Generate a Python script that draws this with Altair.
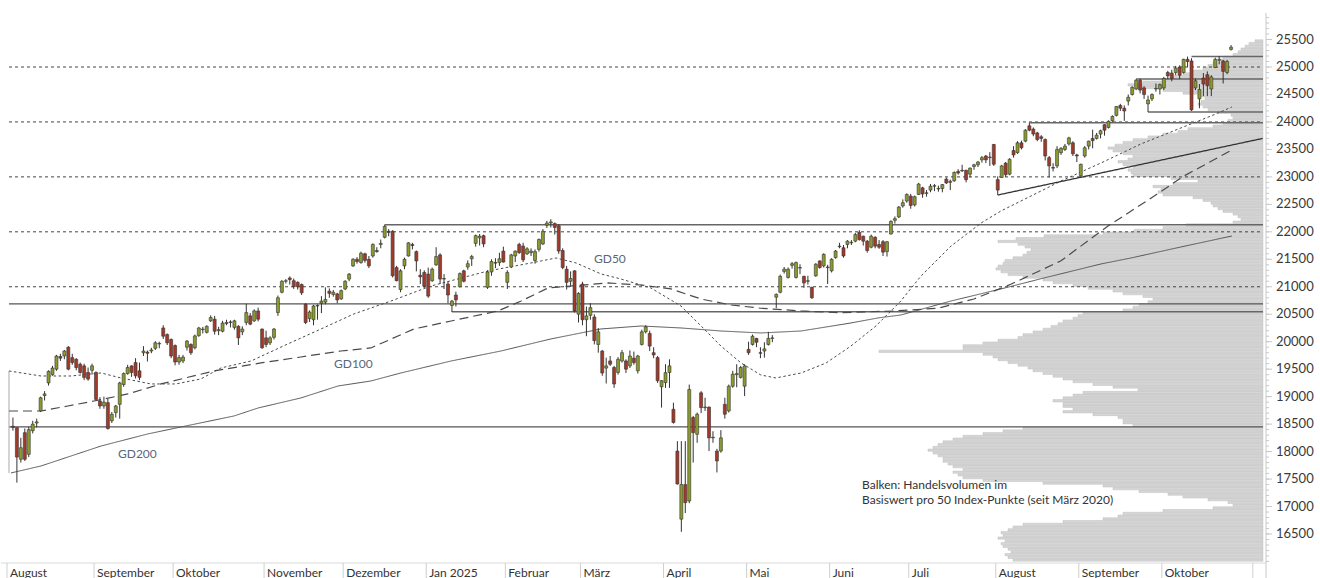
import altair as alt
import pandas as pd

# ---------------- candles: trading-day index 1..309 (2 Aug 2024 .. 24 Oct 2025) ----------------
opens = [
 18460,18435,17860,18345,17950,18380,18520,18740,19020,19250,
 19400,19500,19730,19740,19900,19710,19680,19590,19560,19440,
 19480,19440,18920,18830,18890,18560,18710,18860,19220,19420,
 19560,19620,19470,19800,19810,19830,19880,19960,20250,20130,
 20040,19930,19630,19650,19900,19950,19890,20110,20220,20170,
 20380,20410,20200,20190,20330,20350,20260,20280,20180,20350,
 20470,20380,20560,20230,20070,19980,20080,20530,20900,21100,
 21160,21110,21080,21040,20680,20420,20400,20650,20700,20720,
 20920,20860,20870,20780,20960,21140,21380,21500,21440,21600,
 21500,21560,21660,21770,21900,22010,22010,21350,20950,21380,
 21560,21770,21640,21210,21260,21230,21110,21400,21580,21140,
 21050,20660,20850,21000,21290,21360,21510,21790,21890,21930,
 20990,21270,21440,21440,21650,21080,21360,21560,21770,21740,
 21600,21620,21480,21680,21780,22120,22160,22150,22110,21660,
 21320,21100,21290,20500,21050,20400,20480,20450,19950,19830,
 19520,19650,19530,19440,19650,19650,19560,19700,19470,19950,
 20180,20150,19800,19710,19180,19255,19440,18770,18010,16770,
 17400,17100,18620,18315,19070,18800,18810,18250,18010,18010,
 18860,18740,19190,19400,19350,19190,19860,19950,20060,19800,
 19830,19950,20060,20810,20900,21280,21170,21390,21170,21340,
 21190,21100,20990,21200,21470,21380,21360,21290,21530,21730,
 21710,21770,21800,21830,21990,21920,21830,21720,21900,21770,
 21820,21640,21960,22210,22270,22470,22560,22650,22490,22680,
 22800,22700,22760,22830,22780,22790,22960,22900,22930,23100,
 23120,23120,23050,23190,23220,23310,23380,23350,23590,22950,
 22990,23250,23050,23480,23440,23620,23650,23930,23870,23800,
 23730,23680,23350,23170,23200,23440,23500,23600,23620,23400,
 23020,23380,23560,23700,23700,23780,23950,23900,24020,24120,
 24300,24250,24380,24500,24600,24760,24620,24330,24420,24600,
 24600,24620,24900,24890,24900,25000,24900,25140,25110,24620,
 24420,24800,24860,24600,24990,25120,25110,24900,25320]
highs = [
 18620,18440,18250,18420,18450,18560,18600,19000,19100,19480,
 19560,19760,19780,19850,19920,19780,19700,19620,19600,19530,
 19600,19460,18990,19000,18960,18720,18850,19270,19440,19580,
 19570,19700,19620,19920,19840,19890,20010,20000,20300,20150,
 20060,19950,19760,19760,20030,19970,20130,20270,20270,20300,
 20480,20470,20270,20380,20400,20390,20400,20300,20280,20690,
 20520,20590,20620,20240,20200,20100,20250,20840,21120,21140,
 21190,21150,21100,21060,20700,20570,20670,20680,20830,20990,
 20970,20940,20890,20950,21120,21250,21520,21540,21640,21620,
 21560,21790,21720,21860,22130,22050,22030,21380,21320,21530,
 21810,21800,21660,21320,21300,21350,21350,21720,21610,21230,
 21100,20760,20910,21260,21310,21480,21580,21950,21960,21950,
 21300,21500,21520,21620,21730,21300,21600,21660,21800,21800,
 21720,21700,21680,21880,22050,22200,22230,22170,22140,21700,
 21380,21280,21300,20900,21090,20640,20700,20500,20250,19850,
 19710,19740,19560,19720,19850,19680,19840,19820,19760,20220,
 20300,20200,19900,19740,19300,19590,19680,18890,18190,18190,
 18190,19220,18650,18710,19100,18980,18820,18370,18050,18390,
 18980,19220,19470,19590,19560,19590,20000,20130,20070,19900,
 19990,20180,20120,20880,21220,21360,21350,21450,21460,21410,
 21200,21200,21000,21430,21480,21610,21400,21520,21670,21800,
 21760,21850,21850,21980,22030,21930,21850,21950,21920,21850,
 21850,21830,22210,22280,22470,22590,22700,22690,22660,22890,
 22820,22760,22870,22870,22840,22870,22990,22950,23100,23140,
 23220,23130,23170,23240,23290,23380,23400,23450,23600,23010,
 23220,23270,23340,23560,23650,23660,23870,23985,23900,23820,
 23760,23700,23380,23250,23560,23540,23600,23730,23650,23420,
 23240,23560,23660,23860,23800,23860,23960,24030,24120,24290,
 24330,24300,24500,24650,24780,24790,24650,24480,24520,24700,
 24700,24820,24930,24950,25020,25030,25150,25190,25160,24790,
 24690,24890,24920,24850,25170,25200,25130,25130,25400]
lows = [
 18380,17435,17800,17830,17900,18330,18440,18720,18930,19200,
 19380,19470,19650,19680,19480,19580,19480,19420,19300,19290,
 19400,18930,18780,18780,18400,18520,18620,18600,19180,19400,
 19360,19330,19300,19740,19640,19790,19850,19880,20050,19940,
 19700,19570,19580,19610,19840,19760,19860,20090,20150,20150,
 20360,20130,20120,20170,20300,20260,20220,19940,20120,20300,
 20300,20360,20370,19870,19900,19940,20040,20470,20880,21060,
 21040,20960,20950,20850,20320,20360,20300,20400,20520,20680,
 20800,20820,20700,20760,20940,21100,21360,21420,21420,21440,
 21340,21530,21620,21700,21880,21920,21170,21100,20900,21320,
 21550,21680,21280,21050,20980,20800,21090,21380,21050,20960,
 20700,20540,20640,20990,21080,21310,21380,21730,21750,21720,
 20960,21200,21340,21380,21440,20960,21340,21450,21600,21450,
 21580,21560,21420,21640,21760,22070,22080,21950,21600,21320,
 20950,21000,20530,20350,20300,20100,20400,19950,19800,19380,
 19240,19560,19160,19400,19620,19430,19520,19580,19420,19930,
 20150,19830,19700,19250,18800,19160,19160,18510,17400,16540,
 16880,17060,17800,18160,18700,18740,18010,18160,17620,17980,
 18600,18710,19160,19170,19330,19010,19760,19930,19900,19700,
 19710,19930,19990,20610,20880,21240,21150,21330,21150,21230,
 20980,21040,20780,21180,21330,21350,21050,21260,21510,21700,
 21530,21700,21760,21810,21840,21750,21620,21700,21700,21690,
 21560,21550,21950,22150,22250,22440,22530,22420,22460,22670,
 22620,22640,22720,22740,22730,22720,22870,22760,22910,23040,
 23090,22900,22990,23130,23180,23260,23250,23200,23200,22670,
 22980,23000,23030,23350,23420,23500,23630,23830,23740,23650,
 23640,23300,22990,23100,23160,23400,23470,23570,23380,23270,
 22990,23350,23500,23520,23680,23700,23750,23880,24000,24100,
 24200,24020,24300,24480,24580,24520,24420,24180,24380,24550,
 24500,24580,24780,24740,24850,24780,24880,25000,24200,24580,
 24250,24470,24470,24470,24980,25050,24700,24870,25300]
closes = [
 18440,17900,18070,17860,18400,18500,18540,18980,19050,19460,
 19520,19740,19700,19830,19500,19620,19530,19440,19350,19320,
 19560,18950,18830,18900,18420,18680,18830,19250,19420,19530,
 19440,19380,19350,19830,19790,19850,19980,19970,20100,19980,
 19740,19630,19710,19720,20010,19800,20105,20250,20230,20280,
 20440,20190,20220,20340,20350,20360,20380,20070,20230,20530,
 20320,20560,20410,19890,19950,20070,20230,20800,21100,21110,
 21130,21000,21000,20890,20350,20540,20650,20660,20740,20770,
 20880,20900,20760,20930,21100,21230,21500,21460,21610,21480,
 21380,21770,21640,21790,22100,21990,21200,21110,21290,21500,
 21800,21750,21470,21180,21010,20830,21320,21550,21140,21150,
 20850,20740,20760,21240,21100,21420,21550,21930,21920,21780,
 21270,21460,21430,21510,21450,21260,21580,21650,21620,21490,
 21690,21650,21640,21860,22010,22160,22180,22080,21650,21350,
 21080,21150,20560,20880,20400,20470,20620,20020,20180,19430,
 19560,19590,19230,19680,19800,19500,19740,19620,19740,20180,
 20270,19920,19760,19290,19290,19437,19560,18530,17410,17400,
 17070,19130,18345,18680,18800,18810,18250,18260,17830,18250,
 18680,19190,19410,19420,19530,19560,19800,20100,19990,19790,
 19870,20060,20070,20860,21190,21320,21320,21420,21440,21350,
 21070,21110,20800,21410,21350,21590,21350,21500,21650,21740,
 21560,21830,21810,21950,21860,21830,21660,21920,21740,21720,
 21630,21820,22190,22240,22450,22530,22680,22480,22640,22870,
 22690,22710,22830,22840,22790,22860,22890,22920,23080,23070,
 23110,22950,23160,23220,23270,23350,23310,23360,23230,22760,
 23200,23040,23320,23400,23620,23530,23850,23850,23780,23680,
 23700,23380,23200,23160,23500,23520,23560,23710,23420,23380,
 23230,23530,23650,23660,23760,23840,23850,24010,24100,24280,
 24250,24200,24450,24630,24760,24580,24500,24400,24500,24610,
 24680,24790,24840,24790,24980,24850,25140,25100,24220,24750,
 24590,24690,24660,24820,25140,25140,24920,25100,25360]

# ---------------- moving averages (trading-day index, level) ----------------
gd50_i = [0, 8.1, 15.7, 23.3, 28.3, 35.9, 42.2, 48.5, 53.6, 61.2, 70.5, 78.9, 87.2, 96.6, 106.7,
          121.1, 132, 138.3, 143.4, 149.7, 154.7, 162.3, 169.9, 175, 180, 185.1, 190.1, 193.9,
          200.3, 206.6, 212.9, 219.2, 225.5, 230.6, 238.2, 245.8, 250.8, 258.4, 266, 276.1,
          286.2, 296.3, 303.9, 309.2]
gd50_v = [19467, 19376, 19376, 19431, 19340, 19231, 19231, 19322, 19522, 19649, 19959, 20232,
          20505, 20741, 21014, 21287, 21433, 21524, 21433, 21233, 21142, 20978, 20650, 20286,
          19922, 19613, 19394, 19340, 19431, 19613, 19922, 20286, 20741, 21196, 21742, 22161,
          22379, 22652, 22925, 23253, 23599, 23890, 24108, 24272]
gd100_i = [0, 8.1, 14.9, 21.5, 30.1, 38.4, 51.8, 63.7, 73.8, 83.9, 91.5, 102.4, 111.8, 123.6,
           129.5, 136.3, 142.1, 151.5, 159.8, 167.4, 175, 182.6, 190.1, 200.3, 210.4, 223.8,
           234.9, 244, 253.3, 265.9, 277.9, 288.8, 297.1, 307.2, 309.2]
gd100_v = [18739, 18739, 18830, 18921, 19049, 19231, 19467, 19613, 19722, 19831, 19886, 20232,
           20377, 20559, 20741, 20978, 21014, 21069, 21032, 20960, 20777, 20668, 20609, 20560,
           20528, 20559, 20609, 20778, 21045, 21469, 22106, 22616, 23016, 23411, 23489]
gd200_i = [0.5, 8.1, 23.3, 35.1, 43.5, 56.9, 63, 73.8, 83.2, 91.5, 99.1, 111.8, 124.4, 137,
           149.7, 159.8, 169.9, 180, 190.1, 200.3, 212.9, 219.7, 225.5, 238.2, 250.8, 261.7,
           276.1, 283.7, 296.3, 309.2]
gd200_v = [17611, 17738, 18102, 18321, 18448, 18648, 18794, 18976, 19194, 19285, 19431, 19649,
           19831, 20050, 20232, 20286, 20250, 20195, 20159, 20195, 20341, 20432, 20486, 20741,
           20960, 21160, 21415, 21524, 21724, 21924]

# ---------------- support / resistance lines ----------------
dashed_levels = [21000, 22000, 23000, 24000, 25000]
full_levels = [20690, 18450]
part_levels = [22130, 20545, 23985, 24780, 24180, 25190]
part_start = [95, 112, 258, 285, 288, 299]
trend_i = [250, 317]
trend_v = [22670, 23700]

# ---------------- volume profile: bar length per 50-point bin, from 16000 upwards ----------------
vp_base = 16000
vp_len = [
 250,255,258,252,255,260,262,258,265,260,   # 16000
 262,255,250,240,200,160,145,140,100,50,    # 16500
 30,35,55,80,95,124,150,160,220,280,        # 17000
 300,305,310,300,310,315,320,320,325,330,   # 17500
 335,330,325,320,310,300,280,260,240,130,   # 18000
 140,140,145,170,200,190,200,200,210,200,   # 18500
 190,180,125,150,170,190,200,210,220,230,   # 19000
 235,245,255,265,270,280,384,300,300,280,   # 19500
 265,245,240,230,220,212,205,200,190,185,   # 20000
 180,140,130,124,115,110,120,140,150,175,   # 20500
 190,210,220,240,255,262,267,265,260,258,   # 21000
 250,240,236,232,238,245,265,247,219,160,   # 21500
 129,100,77,30,22,25,30,40,45,50,           # 22000
 52,60,70,100,105,102,110,90,65,92,         # 22500
 130,132,135,130,140,145,135,130,140,150,   # 23000
 155,148,140,130,115,100,85,75,50,40,       # 23500
 35,30,32,45,55,60,65,62,58,65,             # 24000
 80,100,125,135,120,100,90,80,70,60,        # 24500
 55,50,42,40,30,25,22,18,14,8]              # 25000

# ---------------- axes ----------------
month_names = ['August', 'September', 'Oktober', 'November', 'Dezember', 'Jan 2025', 'Februar',
               'März', 'April', 'Mai', 'Juni', 'Juli', 'August', 'September', 'Oktober', '']
month_start = [0, 22, 42, 65, 85, 106, 126, 145, 166, 187, 208, 228, 250, 271, 292, 315]
y_major = list(range(16500, 26000, 500))
y_minor = list(range(16000, 26000, 100))

# ---------------- build ----------------
FONT = 'Lato'
UP, DOWN, INK = '#8c9b2e', '#a23a2a', '#333333'
W, H = 1265, 550
xs = alt.Scale(domain=[-2.02, 317.83], nice=False, zero=False)
ys = alt.Scale(domain=[15972, 25983], nice=False, zero=False)

candles = pd.DataFrame({'i': list(range(1, len(closes) + 1)), 'o': opens, 'h': highs,
                        'l': lows, 'c': closes})
vp = pd.DataFrame({'lvl': [vp_base + 50 * k for k in range(len(vp_len))], 'len': vp_len})

vp_layer = alt.Chart(vp).transform_calculate(
    lo='datum.lvl + 4', hi='datum.lvl + 46', zero='0'
).mark_bar(fill='#d5d5d5', stroke='#bebebe', strokeWidth=0.5).encode(
    x=alt.X('len:Q', scale=alt.Scale(domain=[-3, 1262], reverse=True, nice=False, zero=False), axis=None),
    x2='zero',
    y=alt.Y('lo:Q', scale=ys, axis=None),
    y2='hi')

# right-hand price axis drawn from marks
axis_line = alt.Chart(pd.DataFrame({'a': [0]})).mark_rule(color='#c8c8c8').encode(
    x=alt.value(W), y=alt.value(0), y2=alt.value(H + 16))
minor_layer = alt.Chart(pd.DataFrame({'v': y_minor})).mark_rule(
    color='#c8c8c8', strokeWidth=1).encode(
    y=alt.Y('v:Q', scale=ys, axis=None), x=alt.value(W), x2=alt.value(W + 3))
major_layer = alt.Chart(pd.DataFrame({'v': y_major})).mark_rule(
    color='#c8c8c8', strokeWidth=1).encode(
    y=alt.Y('v:Q', scale=ys, axis=None), x=alt.value(W), x2=alt.value(W + 6))
ylab_layer = alt.Chart(pd.DataFrame({'v': y_major})).mark_text(
    align='left', baseline='middle', font=FONT, fontSize=13, color='#3a3a3a').encode(
    y=alt.Y('v:Q', scale=ys, axis=None), x=alt.value(W + 10), text='v:N')

dash_layer = alt.Chart(pd.DataFrame({'v': dashed_levels})).mark_rule(
    color='#444444', strokeWidth=1, strokeDash=[3, 3]).encode(
    y=alt.Y('v:Q', scale=ys, axis=None), x=alt.value(8), x2=alt.value(1262))

full_layer = alt.Chart(pd.DataFrame({'v': full_levels})).mark_rule(
    color='#555555', strokeWidth=1.2).encode(
    y=alt.Y('v:Q', scale=ys, axis=None), x=alt.value(8), x2=alt.value(1262))

part_layer = alt.Chart(pd.DataFrame({'v': part_levels, 's': part_start})).mark_rule(
    color='#666666', strokeWidth=1.5).encode(
    y=alt.Y('v:Q', scale=ys, axis=None),
    x=alt.X('s:Q', scale=xs, axis=None), x2=alt.value(1262))

# thin connector where the averages start at the left edge
start_link = alt.Chart(pd.DataFrame({'i': [gd50_i[0]], 'a': [gd200_v[0]], 'b': [gd50_v[0]]})).mark_rule(
    color='#aaaaaa', strokeWidth=1).encode(
    x=alt.X('i:Q', scale=xs, axis=None), y=alt.Y('a:Q', scale=ys, axis=None), y2='b')

def ma_layer(ii, vv, dash, width, color):
    return alt.Chart(pd.DataFrame({'i': ii, 'v': vv})).mark_line(
        color=color, strokeWidth=width, strokeDash=dash).encode(
        x=alt.X('i:Q', scale=xs, axis=None), y=alt.Y('v:Q', scale=ys, axis=None), order='i:Q')

gd50 = ma_layer(gd50_i, gd50_v, [2.5, 2.5], 1, '#4a4a4a')
gd100 = ma_layer(gd100_i, gd100_v, [9, 5], 1.2, '#4a4a4a')
gd200 = ma_layer(gd200_i, gd200_v, [1, 0], 1, '#555555')
trend = ma_layer(trend_i, trend_v, [1, 0], 1.3, '#333333')

wick = alt.Chart(candles).mark_rule(color=INK, strokeWidth=1).encode(
    x=alt.X('i:Q', scale=xs, axis=None),
    y=alt.Y('l:Q', scale=ys, axis=None), y2='h')

body = alt.Chart(candles).transform_calculate(
    xl='datum.i - 0.38', xr='datum.i + 0.38'
).mark_bar(stroke=INK, strokeWidth=0.6).encode(
    x=alt.X('xl:Q', scale=xs, axis=None), x2='xr',
    y=alt.Y('o:Q', scale=ys, axis=None), y2='c',
    fill=alt.condition('datum.c >= datum.o', alt.value(UP), alt.value(DOWN)))

months = pd.DataFrame({'name': month_names, 'start': month_start})
sep_layer = alt.Chart(months).transform_calculate(p='datum.start - 0.5').mark_rule(
    color='#cfcfcf', strokeWidth=1).encode(
    x=alt.X('p:Q', scale=xs, axis=None), y=alt.value(H), y2=alt.value(H + 16))
mon_layer = alt.Chart(months).transform_calculate(p='datum.start - 0.5').mark_text(
    align='left', baseline='middle', dx=3, font=FONT, fontSize=12, color='#333333').encode(
    x=alt.X('p:Q', scale=xs, axis=None), y=alt.value(H + 10), text='name:N')
frame = alt.Chart(pd.DataFrame({'a': [0]})).mark_rule(color='#d9d9d9').encode(
    x=alt.value(0), x2=alt.value(W), y=alt.value(H))

def label(txt, px, py, color, size=12):
    return alt.Chart(pd.DataFrame({'t': [txt]})).mark_text(
        align='left', baseline='middle', font=FONT, fontSize=size, color=color).encode(
        x=alt.value(px), y=alt.value(py), text='t:N')

labels = [
    label('GD50', 593, 246, '#56687c'),
    label('GD100', 333, 351, '#56687c'),
    label('GD200', 117, 441, '#56687c'),
    label('Balken: Handelsvolumen im', 861, 472, '#333333'),
    label('Basiswert pro 50 Index-Punkte (seit März 2020)', 861, 487, '#333333'),
]

chart = alt.layer(
    vp_layer, dash_layer, full_layer, part_layer, start_link, gd200, gd100, gd50, trend,
    wick, body, frame, sep_layer, mon_layer, axis_line, minor_layer, major_layer, ylab_layer,
    *labels
).resolve_scale(x='independent').properties(
    width=W, height=H, padding={'left': 0, 'top': 12, 'right': 0, 'bottom': 0}
).configure(background='white').configure_view(stroke=None)

chart.save('out.html', embed_options={'renderer': 'svg', 'actions': False})
